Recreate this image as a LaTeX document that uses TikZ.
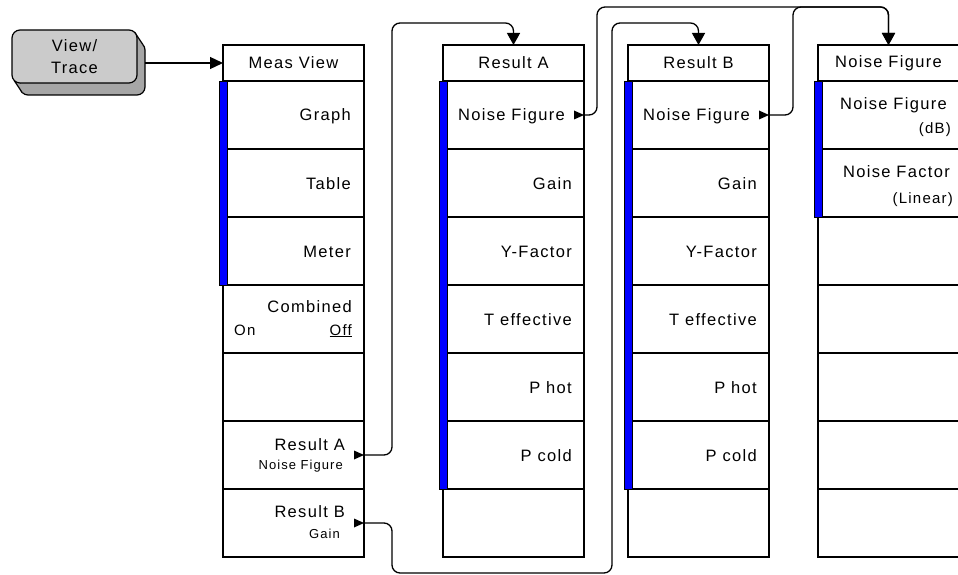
\documentclass[tikz,border=0pt]{standalone}
\usepackage{fontspec}
\setmainfont{Liberation Sans}
\newfontfamily\kf[LetterSpace=8]{Liberation Sans}
\usetikzlibrary{arrows.meta,calc}
\definecolor{btnfront}{HTML}{CBCBCB}
\definecolor{btnback}{HTML}{A6A6A6}
\tikzset{
  colbox/.style={draw, line width=1.3pt, minimum width=141pt, inner sep=0pt, outer sep=0pt},
  titlebox/.style={colbox, minimum height=36pt, font=\kf\fontsize{16.5}{18}\selectfont},
  keybox/.style={colbox, minimum height=68pt},
  lbl/.style={anchor=base east, inner sep=0pt, font=\kf\fontsize{16.5}{18}\selectfont},
  lblw/.style={anchor=base west, inner sep=0pt, font=\kf\fontsize{15}{16}\selectfont},
  sublbl/.style={anchor=base east, inner sep=0pt, font=\kf\fontsize{13}{14}\selectfont},
  sublblb/.style={anchor=base east, inner sep=0pt, font=\kf\fontsize{15}{16}\selectfont},
  softbar/.style={fill=blue, draw=black, line width=0.8pt},
  conn/.style={line width=1.3pt, rounded corners=8pt},
  downtip/.style={-{Triangle[width=13pt,length=12pt]}},
  btn/.style={draw, line width=1.2pt, rounded corners=8pt, minimum width=125pt, minimum height=53pt, inner sep=0pt, outer sep=0pt},
}
\begin{document}
\begin{tikzpicture}[x=1pt,y=-1pt]
\useasboundingbox (0,0) rectangle (958,575);

% ---------- View/Trace hard key ----------
\node[btn, fill=btnback] (vtb) at (82.5,68.5) {};
\fill[btnback] (134.7,32.3) -- (142.7,44.3) -- (136,48) -- cycle;
\fill[btnback] (14.3,80.7) -- (22.3,92.7) -- (26,86) -- cycle;
\draw[line width=1.2pt] (134.7,32.3) -- (142.7,44.3);
\draw[line width=1.2pt] (14.3,80.7) -- (22.3,92.7);
\node[btn, fill=btnfront, align=center, font=\kf\fontsize{16.5}{22}\selectfont] (vt) at (74.5,56.5) {View/\\Trace};

% ---------- columns ----------
\node[titlebox] (mvT) at (293.5,63) {Meas View};
\node[titlebox] (raT) at (513.5,63) {Result A};
\node[titlebox] (rbT) at (698.5,63) {Result B};
\node[titlebox] (nfT) at (888.5,63) {Noise Figure};
\foreach \k in {1,...,7}{
  \node[keybox] (mv\k) at (293.5,{47+68*\k}) {};
  \node[keybox] (ra\k) at (513.5,{47+68*\k}) {};
  \node[keybox] (rb\k) at (698.5,{47+68*\k}) {};
  \node[keybox] (nf\k) at (888.5,{47+68*\k}) {};
}

% ---------- blue bars ----------
\draw[softbar] ($(mv1.north west)+(-4,0)$) rectangle ($(mv3.south west)+(4,0)$);
\draw[softbar] ($(ra1.north west)+(-4,0)$) rectangle ($(ra6.south west)+(4,0)$);
\draw[softbar] ($(rb1.north west)+(-4,0)$) rectangle ($(rb6.south west)+(4,0)$);
\draw[softbar] ($(nf1.north west)+(-4,0)$) rectangle ($(nf2.south west)+(4,0)$);

% ---------- Meas View labels ----------
\node[lbl] (mvl1) at ($(mv1.east)+(-13,6)$) {Graph};
\node[lbl] (mvl2) at ($(mv2.east)+(-13,6)$) {Table};
\node[lbl] (mvl3) at ($(mv3.east)+(-13,6)$) {Meter};
\node[lbl] (mvl4) at ($(mv4.east)+(-12,-7)$) {Combined};
\node[lblw] (mvl4on) at ($(mv4.west)+(11,16)$) {On};
\node[sublblb] (mvl4off) at ($(mv4.east)+(-12,16)$) {\underline{Off}};
\node[lbl] (mvl6) at ($(mv6.east)+(-19,-5)$) {Result A};
\node[sublbl] (mvl6s) at ($(mv6.east)+(-21,14)$) {Noise Figure};
\node[lbl] (mvl7) at ($(mv7.east)+(-19,-6)$) {Result B};
\node[sublbl] (mvl7s) at ($(mv7.east)+(-24,15)$) {Gain};
\fill (mv6.east) -- ++(-10,-4.5) -- ++(0,9) -- cycle;
\fill (mv7.east) -- ++(-10,-4.5) -- ++(0,9) -- cycle;

% ---------- Result A labels ----------
\node[lbl] (ral1) at ($(ra1.east)+(-19,6)$) {Noise Figure};
\node[lbl] (ral2) at ($(ra2.east)+(-12,6)$) {Gain};
\node[lbl] (ral3) at ($(ra3.east)+(-12,6)$) {Y-Factor};
\node[lbl] (ral4) at ($(ra4.east)+(-12,6)$) {T effective};
\node[lbl] (ral5) at ($(ra5.east)+(-12,6)$) {P hot};
\node[lbl] (ral6) at ($(ra6.east)+(-12,6)$) {P cold};
\fill (ra1.east) -- ++(-10,-4.5) -- ++(0,9) -- cycle;

% ---------- Result B labels ----------
\node[lbl] (rbl1) at ($(rb1.east)+(-19,6)$) {Noise Figure};
\node[lbl] (rbl2) at ($(rb2.east)+(-12,6)$) {Gain};
\node[lbl] (rbl3) at ($(rb3.east)+(-12,6)$) {Y-Factor};
\node[lbl] (rbl4) at ($(rb4.east)+(-12,6)$) {T effective};
\node[lbl] (rbl5) at ($(rb5.east)+(-12,6)$) {P hot};
\node[lbl] (rbl6) at ($(rb6.east)+(-12,6)$) {P cold};
\fill (rb1.east) -- ++(-10,-4.5) -- ++(0,9) -- cycle;

% ---------- Noise Figure labels ----------
\node[lbl] (nfl1) at ($(nf1.east)+(-12,-5)$) {Noise Figure};
\node[sublblb] (nfl1s) at ($(nf1.east)+(-8,18)$) {(dB)};
\node[lbl] (nfl2) at ($(nf2.east)+(-9,-6)$) {Noise Factor};
\node[sublblb] (nfl2s) at ($(nf2.east)+(-6,20)$) {(Linear)};

% ---------- connectors ----------
\draw[line width=1.3pt, -{Triangle[width=12pt,length=13pt]}] (vtb.east |- mvT.west) -- (mvT.west);
\coordinate (c1) at (392,23);
\coordinate (c2a) at (392,573);
\coordinate (c2b) at (612,23);
\coordinate (c3) at (597,7);
\coordinate (c4) at (793,7);
\draw[conn, downtip] (mv6.east) -| (c1) -| (raT.north);
\draw[conn, downtip] (mv7.east) -| (c2a) -| (c2b) -| (rbT.north);
\draw[conn, downtip] (ra1.east) -| (c3) -| (nfT.north);
\draw[conn, downtip] (rb1.east) -| (c4) -| (nfT.north);
\end{tikzpicture}
\end{document}
